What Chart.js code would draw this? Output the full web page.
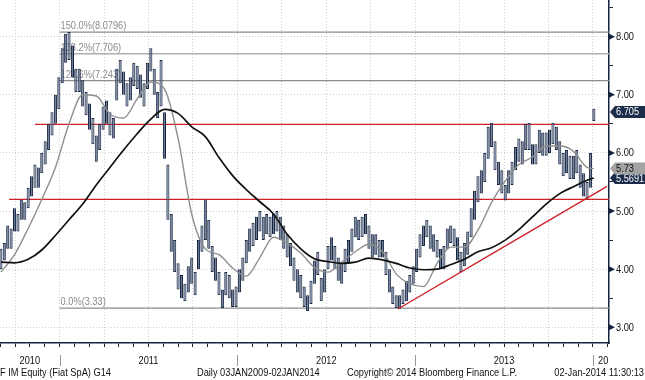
<!DOCTYPE html>
<html>
<head>
<meta charset="utf-8">
<script src="https://cdn.jsdelivr.net/npm/chart.js@4.4.0/dist/chart.umd.min.js"></script>
<style>
  body { margin: 0; background: #fff; }
  canvas { display: block; }
</style>
</head>
<body>
<canvas id="grafico" width="645" height="380"></canvas>
<script>
// F IM Equity, barras semanais (minima/maxima) a partir do inicio de set/2010
const primeira_semana = 2010.67;
const semana = 7 / 365.25;

const minimas = [
  4.0, 4.15, 4.35, 4.35, 4.65, 4.65, 4.85, 4.85, 5.05, 5.25,
  5.4, 5.4, 5.65, 5.8, 6.05, 6.3, 6.5, 6.75, 7.2, 7.55,
  7.6, 7.3, 7.05, 7.05, 6.8, 6.65, 6.4, 6.15, 5.85, 6.05,
  6.4, 6.5, 6.3, 6.25, 6.9, 7.2, 7.0, 6.8, 6.9, 7.15,
  7.1, 6.95, 6.8, 7.1, 7.4, 7.0, 6.6, 6.8, 5.9, 4.85,
  4.3, 3.95, 3.65, 3.5, 3.45, 3.6, 3.75, 3.55, 4.0, 4.3,
  4.5, 4.35, 3.95, 3.8, 3.55, 3.33, 3.55, 3.5, 3.35, 3.35,
  3.6, 3.8, 4.1, 4.3, 4.4, 4.5, 4.65, 4.5, 4.6, 4.55,
  4.6, 4.65, 4.5, 4.35, 4.2, 4.05, 3.8, 3.6, 3.5, 3.35,
  3.28, 3.4, 3.75, 3.9, 3.45, 3.6, 4.0, 4.15, 4.0, 3.8,
  3.75, 3.95, 4.1, 4.3, 4.55, 4.5, 4.55, 4.6, 4.35, 4.2,
  4.25, 4.2, 4.2, 3.9, 3.6, 3.4, 3.33, 3.32, 3.4, 3.45,
  3.6, 3.75, 3.95, 4.2, 4.4, 4.55, 4.35, 4.3, 4.2, 4.0,
  4.0, 4.35, 4.45, 4.4, 4.15, 3.95, 4.05, 4.25, 4.55, 4.85,
  5.15, 5.3, 5.5, 5.9, 6.1, 5.7, 5.45, 5.3, 5.18, 5.3,
  5.45, 5.7, 5.85, 5.8, 6.05, 6.05, 5.8, 5.8, 6.0, 5.95,
  5.95, 6.0, 6.15, 6.05, 5.8, 5.6, 5.65, 5.55, 5.55, 5.65,
  5.4, 5.25, 5.2, 5.4, 6.55
];
const maximas = [
  4.35, 4.45, 4.75, 4.7, 5.05, 4.95, 5.2, 5.15, 5.4, 5.6,
  5.8, 5.75, 6.0, 6.2, 6.5, 6.7, 7.0, 7.3, 7.8, 8.05,
  8.08, 7.85, 7.45, 7.45, 7.25, 7.05, 6.85, 6.6, 6.3, 6.5,
  6.8, 6.9, 6.7, 6.6, 7.45, 7.6, 7.4, 7.2, 7.3, 7.55,
  7.5, 7.35, 7.2, 7.55, 7.8, 7.45, 7.05, 7.6, 6.7, 5.8,
  4.95, 4.5, 4.1, 3.9, 3.75, 4.05, 4.2, 3.95, 4.5, 4.75,
  5.2, 4.85, 4.4, 4.2, 3.95, 3.65, 3.95, 3.9, 3.65, 3.7,
  4.0, 4.2, 4.5, 4.7, 4.8, 4.9, 5.0, 4.9, 4.95, 4.9,
  4.95, 5.0, 4.9, 4.75, 4.6, 4.45, 4.2, 4.0, 3.9, 3.7,
  3.55, 3.8, 4.15, 4.3, 3.85, 4.0, 4.4, 4.55, 4.4, 4.2,
  4.1, 4.35, 4.5, 4.7, 4.9, 4.85, 4.9, 4.95, 4.75, 4.6,
  4.6, 4.5, 4.5, 4.3, 4.0, 3.7, 3.55, 3.55, 3.65, 3.8,
  3.9, 4.05, 4.35, 4.6, 4.75, 4.85, 4.75, 4.6, 4.5, 4.35,
  4.4, 4.7, 4.75, 4.7, 4.55, 4.3, 4.45, 4.65, 5.05, 5.35,
  5.6, 5.7, 6.0, 6.45, 6.52, 6.2, 5.85, 5.7, 5.45, 5.7,
  5.85, 6.1, 6.25, 6.2, 6.5, 6.52, 6.15, 6.15, 6.4, 6.35,
  6.35, 6.4, 6.52, 6.45, 6.2, 6.0, 6.05, 5.95, 5.95, 6.05,
  5.8, 5.65, 5.5, 6.0, 6.76
];

// medias moveis lidas a cada 4 semanas (ultimo ponto = ultima barra)
const semanas_media = [
  0, 4, 8, 12, 16, 20, 24, 28, 32, 36, 40, 44, 48, 52, 56, 60, 64, 68, 72, 76, 80, 84,
  88, 92, 96, 100, 104, 108, 112, 116, 120, 124, 128, 132, 136, 140, 144, 148, 152, 156,
  160, 164, 168, 172, 174
];
const media_curta = [
  3.95, 4.25, 4.7, 5.2, 5.75, 6.5, 7.0, 6.98, 6.67, 6.6, 6.93, 7.22, 7.1, 6.25, 4.95, 4.35,
  4.25, 4.02, 3.88, 4.2, 4.55, 4.45, 4.28, 4.03, 3.95, 4.12, 4.3, 4.43, 4.3, 3.92, 3.75,
  3.7, 4.1, 4.38, 4.38, 4.67, 5.15, 5.52, 5.8, 5.93, 6.12, 6.12, 6.03, 5.75, 5.73
];
const media_longa = [
  4.12, 4.11, 4.17, 4.33, 4.58, 4.85, 5.12, 5.45, 5.75, 6.05, 6.33, 6.58, 6.75, 6.68, 6.45,
  6.28, 5.92, 5.61, 5.37, 5.16, 4.95, 4.6, 4.35, 4.18, 4.13, 4.1, 4.12, 4.19, 4.16, 4.1,
  4.02, 3.99, 4.0, 4.08, 4.17, 4.3, 4.37, 4.5, 4.68, 4.9, 5.12, 5.3, 5.42, 5.53, 5.5691
];

// retracoes de fibonacci
const fib_niveis = [8.0796, 7.706, 7.243, 3.33];
const fib_textos = ['150.0%(8.0796)', '138.2%(7.706)', '123.6%(7.243)', '0.0%(3.33)'];
const fib_inicio = 2011.0;

// suportes / resistencias e linha de tendencia
const linhas_vermelhas = [6.49, 5.20];
const inicio_vermelhas = [2010.862, 2010.716];
const tendencia_x = [2012.903, 2014.079];
const tendencia_y = [3.315, 5.425];

const anos = [2010, 2011, 2012, 2013, 2014];
const ticks_y = [3, 4, 5, 6, 7, 8];
const ultimo_preco = 6.705;
const ultima_curta = 5.73;
const ultima_longa = 5.5691;

const x_min = 2010.665, x_max = 2014.09;
const y_min = 2.73, y_max = 8.631;

const fonte = '"Liberation Sans", Arial, sans-serif';
const aperto = 0.84;   // o texto da Bloomberg e bem estreito
const azul = '#15223d';
const vermelho = '#cf2027';

Chart.defaults.font.family = fonte;
Chart.defaults.font.size = 11;
Chart.defaults.color = '#111111';

function ponto_semana(i) {
    return primeira_semana + i * semana;
}

const barras = minimas.map((lo, i) => ({x: ponto_semana(i), y: [lo, maximas[i]]}));
const curta = semanas_media.map((s, i) => ({x: ponto_semana(s), y: media_curta[i]}));
const longa = semanas_media.map((s, i) => ({x: ponto_semana(s), y: media_longa[i]}));

function linha(dados, cor, largura, ordem) {
    return {
        type: 'line', data: dados, borderColor: cor, borderWidth: largura,
        pointRadius: 0, fill: false, order: ordem, cubicInterpolationMode: 'monotone'
    };
}

const datasets = [];
fib_niveis.forEach((v, i) => {
    datasets.push(linha([{x: fib_inicio, y: v}, {x: x_max, y: v}], i == 1 ? '#aeaeae' : '#8c8c8c', 1.3, 10));
});
linhas_vermelhas.forEach((v, i) => {
    datasets.push(linha([{x: inicio_vermelhas[i], y: v}, {x: x_max, y: v}], vermelho, 1.3, 9));
});
datasets.push({
    type: 'bar', data: barras, backgroundColor: '#6a7b98', borderColor: azul, borderWidth: 1,
    borderSkipped: false, barPercentage: 1, categoryPercentage: 0.9, grouped: false, order: 5
});
datasets.push(linha([{x: tendencia_x[0], y: tendencia_y[0]}, {x: tendencia_x[1], y: tendencia_y[1]}], vermelho, 1.3, 3));
datasets.push(linha(curta, '#8e8e8e', 1.4, 2));
datasets.push(linha(longa, '#111111', 1.7, 1));

// texto comprimido na horizontal
function texto(ctx, txt, x, y, alinhamento) {
    const w = ctx.measureText(txt).width * aperto;
    let x0 = x;
    if (alinhamento == 'center') x0 = x - w / 2;
    if (alinhamento == 'right') x0 = x - w;
    ctx.save();
    ctx.translate(x0, y);
    ctx.scale(aperto, 1);
    ctx.textAlign = 'left';
    ctx.fillText(txt, 0, 0);
    ctx.restore();
    return w;
}

function desenha_etiqueta(ctx, y, valor, txt, fundo, cor_texto) {
    const py = y.getPixelForValue(valor);
    const esq = y.left + 1;
    ctx.beginPath();
    ctx.moveTo(esq, py);
    ctx.lineTo(esq + 5, py - 6);
    ctx.lineTo(645, py - 6);
    ctx.lineTo(645, py + 6);
    ctx.lineTo(esq + 5, py + 6);
    ctx.closePath();
    ctx.fillStyle = fundo;
    ctx.fill();
    ctx.fillStyle = cor_texto;
    ctx.textBaseline = 'middle';
    texto(ctx, txt, esq + 6, py + 0.5, 'left');
}

const decoracao = {
    id: 'decoracao',
    beforeDatasetsDraw(chart) {
        const {ctx, scales: {x, y}} = chart;
        ctx.save();
        ctx.font = '11px ' + fonte;
        ctx.fillStyle = '#8a8a8a';
        ctx.textBaseline = 'bottom';
        fib_niveis.forEach((v, i) => {
            texto(ctx, fib_textos[i], x.getPixelForValue(fib_inicio) + 1, y.getPixelForValue(v) - 0.5, 'left');
        });
        ctx.restore();
    },
    afterDraw(chart) {
        const {ctx, chartArea, scales: {x, y}} = chart;
        ctx.save();
        ctx.font = '11px ' + fonte;

        // triangulos e rotulos do eixo de precos
        ticks_y.forEach(v => {
            const py = y.getPixelForValue(v);
            ctx.fillStyle = azul;
            ctx.beginPath();
            ctx.moveTo(y.left, py - 3);
            ctx.lineTo(y.left + 6, py);
            ctx.lineTo(y.left, py + 3);
            ctx.closePath();
            ctx.fill();
            ctx.fillStyle = '#111111';
            ctx.textBaseline = 'middle';
            texto(ctx, v.toFixed(2), y.left + 7, py + 0.5, 'left');
        });

        // anos e separadores
        ctx.save();
        ctx.beginPath();
        ctx.rect(0, chartArea.bottom, chartArea.right, 30);
        ctx.clip();
        ctx.textBaseline = 'middle';
        anos.forEach(ano => {
            const a = Math.max(ano, x_min), b = Math.min(ano + 1, x_max);
            const pa = x.getPixelForValue(a), pb = x.getPixelForValue(b);
            const txt = String(ano);
            const w = ctx.measureText(txt).width * aperto;
            ctx.fillStyle = '#111111';
            if (pb - pa > w + 8) {
                texto(ctx, txt, (pa + pb) / 2, 361, 'center');
            } else {
                texto(ctx, txt, pa + 5, 361, 'left');
            }
            if (ano > x_min) {
                ctx.strokeStyle = '#9a9a9a';
                ctx.lineWidth = 1;
                ctx.beginPath();
                ctx.moveTo(Math.round(pa) + 0.5, 355);
                ctx.lineTo(Math.round(pa) + 0.5, 366);
                ctx.stroke();
            }
        });
        ctx.restore();

        // rodape
        ctx.fillStyle = '#111111';
        ctx.textBaseline = 'middle';
        texto(ctx, 'F IM Equity (Fiat SpA) G14', 0, 373, 'left');
        texto(ctx, 'Daily 03JAN2009-02JAN2014', 197, 373, 'left');
        texto(ctx, 'Copyright\u00a9 2014 Bloomberg Finance L.P.', 347, 373, 'left');
        texto(ctx, '02-Jan-2014 11:30:13', 644, 373, 'right');

        // etiquetas de valor
        desenha_etiqueta(ctx, y, ultimo_preco, ultimo_preco.toFixed(3), '#1c2c4b', '#ffffff');
        desenha_etiqueta(ctx, y, ultima_longa, ultima_longa.toFixed(4), '#1c2c4b', '#ffffff');
        desenha_etiqueta(ctx, y, ultima_curta, ultima_curta.toFixed(2), '#a4a4a4', '#111111');
        ctx.restore();
    }
};

const ctx = document.getElementById('grafico').getContext('2d');
const grafico = new Chart(ctx, {
    type: 'line',
    data: {datasets: datasets},
    options: {
        responsive: false,
        animation: false,
        devicePixelRatio: 1,
        layout: {padding: 0},
        plugins: {legend: {display: false}, tooltip: {enabled: false}},
        scales: {
            x: {
                type: 'linear', position: 'bottom', min: x_min, max: x_max,
                offset: false,
                afterBuildTicks(scale) {
                    const t = [];
                    for (let m = 8; m <= 49; m++) t.push({value: 2010 + m / 12});
                    scale.ticks = t.filter(k => k.value >= x_min && k.value <= x_max);
                },
                afterFit(scale) {
                    scale.height = 37;
                    scale.paddingLeft = 0;
                    scale.paddingRight = 0;
                },
                ticks: {display: false},
                grid: {
                    offset: false,
                    color: c => (Math.round(c.tick.value * 12) % 3 == 0 ? '#cdcdcd' : 'rgba(0,0,0,0)'),
                    lineWidth: 1,
                    tickColor: azul,
                    tickLength: 4,
                    drawTicks: true
                },
                border: {display: true, color: azul, width: 1.5, dash: [1, 2]}
            },
            y: {
                type: 'linear', position: 'right', min: y_min, max: y_max,
                afterBuildTicks(scale) {
                    const t = [];
                    for (let v = 3; v <= 8.5; v += 0.5) t.push({value: v});
                    scale.ticks = t;
                },
                afterFit(scale) {
                    scale.width = 36;
                    scale.paddingTop = 0;
                    scale.paddingBottom = 0;
                },
                ticks: {display: false},
                grid: {
                    color: c => (Number.isInteger(c.tick.value) ? '#cdcdcd' : 'rgba(0,0,0,0)'),
                    lineWidth: 1,
                    tickColor: azul,
                    tickLength: 4
                },
                border: {display: true, color: azul, width: 1.5, dash: [1, 2]}
            }
        }
    },
    plugins: [decoracao]
});
</script>
</body>
</html>
